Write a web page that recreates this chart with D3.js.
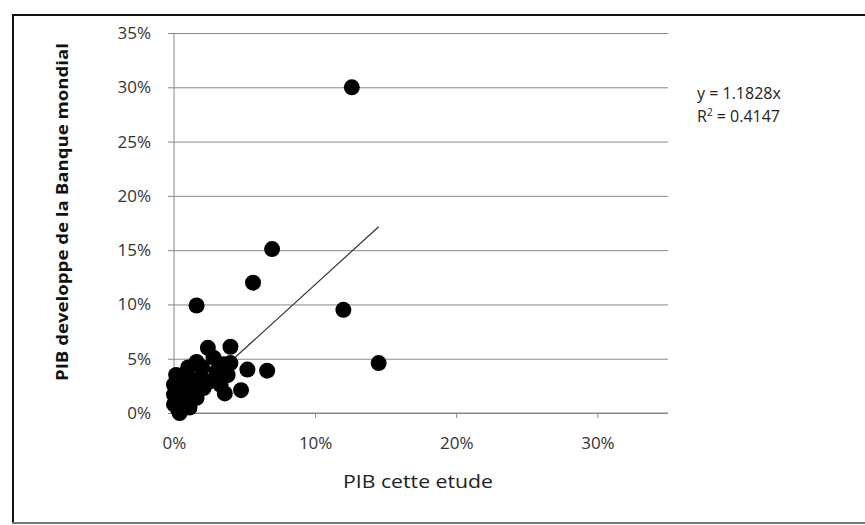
<!DOCTYPE html>
<html>
<head>
<meta charset="utf-8">
<script src="https://cdn.jsdelivr.net/npm/d3@7"></script>
<style>
	body { margin: 0; background: #fff; }
	text { font-family: "Open Sans", "Liberation Sans", sans-serif; }
</style>
</head>
<body>
<div id="chart"></div>
<script>
// values, in percent
var studyGdp = [12.6, 6.95, 5.6, 1.6, 12.0, 14.5, 5.2, 6.6, 4.75, 2.4, 4.0, 4.0, 3.8, 3.6, 3.0, 2.8,
	1.6, 1.0, 0.15, 0.0, 0.0, 0.0, 0.4, 1.1, 1.6, 2.1, 2.5, 0.6, 0.85, 3.3, 0.3, 0.8,
	1.2, 1.9, 0.5, 2.0, 1.4, 3.5];
var wbGdp = [30.0, 15.1, 12.0, 9.9, 9.5, 4.6, 4.0, 3.9, 2.1, 6.0, 6.1, 4.6, 3.5, 1.8, 3.8, 5.1,
	4.7, 4.2, 3.5, 2.6, 1.7, 0.8, 0.0, 0.5, 1.4, 2.3, 2.9, 2.3, 3.2, 2.6, 0.3, 1.3,
	2.0, 3.3, 1.0, 4.2, 3.0, 4.5];
var xTicks = [0, 10, 20, 30];
var yTicks = [0, 5, 10, 15, 20, 25, 30, 35];
var slope = 1.1828;
var rSquared = 0.4147;

var width = 865, height = 525;
var plot = {left: 174, right: 668, top: 33, bottom: 413};

var svg = d3.select('#chart').append('svg')
	.attr('width', width)
	.attr('height', height);

// frame round the chart
svg.append('line').attr('x1', 13).attr('x2', 13).attr('y1', 14).attr('y2', 523)
	.attr('stroke', '#111').attr('stroke-width', 2);
svg.append('line').attr('x1', 12).attr('x2', 865).attr('y1', 15).attr('y2', 15)
	.attr('stroke', '#111').attr('stroke-width', 2);
svg.append('line').attr('x1', 12).attr('x2', 865).attr('y1', 523).attr('y2', 523)
	.attr('stroke', '#777').attr('stroke-width', 2);

var x = d3.scaleLinear().domain([0, 35]).range([plot.left, plot.right]);
var y = d3.scaleLinear().domain([0, 35]).range([plot.bottom, plot.top]);

// gridlines + y axis
var yAxis = svg.append('g')
	.attr('transform', 'translate(' + plot.left + ',0)')
	.call(d3.axisLeft(y).tickValues(yTicks).tickFormat(d => d + '%')
		.tickSize(-(plot.right - plot.left)).tickPadding(22));
yAxis.select('.domain').remove();
yAxis.selectAll('.tick line')
	.attr('x1', -6)
	.attr('stroke', '#878787');
yAxis.selectAll('.tick text')
	.attr('x', -23)
	.attr('fill', '#333')
	.style('font-size', '17px');

svg.append('line')
	.attr('x1', plot.left).attr('x2', plot.left)
	.attr('y1', plot.top).attr('y2', plot.bottom)
	.attr('stroke', '#878787');

var xAxis = svg.append('g')
	.attr('transform', 'translate(0,' + plot.bottom + ')')
	.call(d3.axisBottom(x).tickValues(xTicks).tickFormat(d => d + '%')
		.tickSize(5).tickPadding(19).tickSizeOuter(0));
xAxis.select('.domain').attr('stroke', '#878787').attr('d', 'M' + plot.left + ',0H' + plot.right);
xAxis.selectAll('.tick line').attr('stroke', '#878787');
xAxis.selectAll('.tick text')
	.attr('fill', '#333')
	.style('font-size', '17px');

// linear trendline through origin, over the data range (under the markers)
var xMax = d3.max(studyGdp);
svg.append('line')
	.attr('x1', x(0)).attr('y1', y(0))
	.attr('x2', x(xMax)).attr('y2', y(slope * xMax))
	.attr('stroke', '#333')
	.attr('stroke-width', 1.2);

// points
var pts = studyGdp.map((d, i) => ({sx: d, wb: wbGdp[i]}));
svg.append('g').selectAll('circle')
	.data(pts)
	.enter()
	.append('circle')
	.attr('cx', d => x(d.sx))
	.attr('cy', d => y(d.wb))
	.attr('r', 8)
	.attr('fill', '#000');

// equation label
var eq = svg.append('text')
	.attr('x', 697).attr('y', 99)
	.attr('fill', '#222')
	.style('font-size', '16px');
eq.append('tspan').text('y = ' + slope + 'x');
var r2 = svg.append('text')
	.attr('x', 697).attr('y', 122)
	.attr('fill', '#222')
	.style('font-size', '16px');
r2.append('tspan').text('R');
r2.append('tspan').attr('dy', -6).style('font-size', '10px').text('2');
r2.append('tspan').attr('dy', 6).text(' = ' + rSquared);

// axis titles
svg.append('text')
	.attr('x', 418).attr('y', 488)
	.attr('text-anchor', 'middle')
	.attr('fill', '#222')
	.attr('textLength', 150)
	.attr('lengthAdjust', 'spacingAndGlyphs')
	.style('font-size', '18px')
	.text('PIB cette etude');

svg.append('text')
	.attr('transform', 'translate(68,212) rotate(-90)')
	.attr('text-anchor', 'middle')
	.attr('fill', '#111')
	.attr('font-weight', 'bold')
	.attr('textLength', 338)
	.attr('lengthAdjust', 'spacingAndGlyphs')
	.style('font-size', '16px')
	.text('PIB developpe de la Banque mondial');
</script>
</body>
</html>
